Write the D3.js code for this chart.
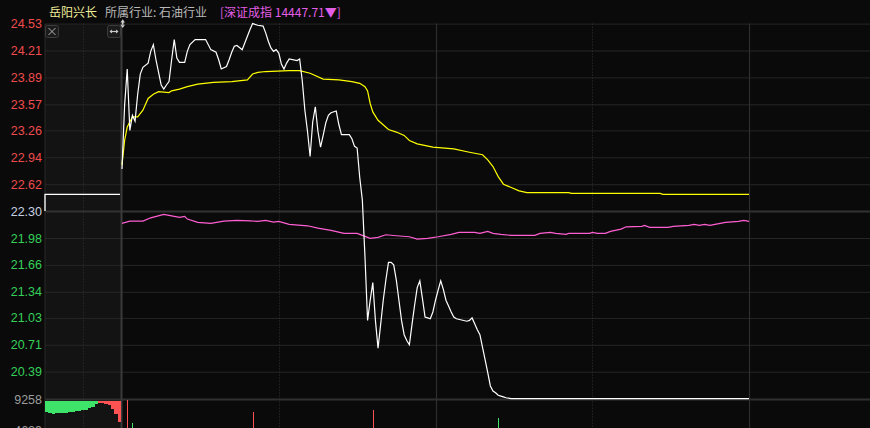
<!DOCTYPE html>
<html><head><meta charset="utf-8">
<script src="https://cdn.jsdelivr.net/npm/d3@7"></script>
<style>html,body{margin:0;padding:0;background:#0a0a0a;overflow:hidden}svg{display:block}</style>
</head><body><svg id="c" width="870" height="428"></svg>
<script>
// ---------- data ----------
const stockName = "岳阳兴长";
const industryText = "所属行业: 石油行业";
const indexText = "[深证成指 14447.71▼]";
const prevClose = 22.30;
const indexPrevClose = 14527.6;

const priceTicks = [24.53, 24.21, 23.89, 23.57, 23.26, 22.94, 22.62, 22.30, 21.98, 21.66, 21.34, 21.03, 20.71, 20.39];
const priceTickLabels = ["24.53","24.21","23.89","23.57","23.26","22.94","22.62","22.30","21.98","21.66","21.34","21.03","20.71","20.39"];
const volTicks = [9258, 4629];
const volTickLabels = ["9258", "4629"];

// call auction (9:15-9:25), minutes from 9:15
const auctionMinute = [0, 0, 10];
const auctionPrice = [22.30, 22.50, 22.50];
const auctionImbalance = [1687,1881,2030,1941,1926,1881,1792,1732,1687,1642,1583,1493,1344,1120,896,597,299,299,448,746,1269,2015,3285];
const auctionSide = ["s","s","s","s","s","s","s","s","s","s","s","s","s","s","s","s","b","b","b","b","b","b","b"];

// minute index from 9:30 (0..240)
const priceMinute = [0,1,2,3,4,5,6,7,8,10,11,12,13,14,15,16,17,18,19,20,21,22,24,25,26,28,32,34,36,37,38,40,41,42,43,44,46,47,48,49,50,52,54,55,56,57,58,59,60,61,62,63,64,67,68,69,70,71,72,73,74,75,76,77,78,79,80,82,83,84,87,88,89,90,91,92,93,94,95,96,97,98,99,100,101,102,103,104,105,106,107,108,109,110,111,112,113,114,115,116,117,118,119,120,121,122,123,124,125,126,127,128,132,133,134,135,136,137,138,139,140,141,142,143,144,145,146,147,149,240];
const priceValue = [22.80,23.56,23.99,23.26,23.44,23.37,23.69,23.93,24.01,24.06,24.20,24.28,24.10,23.95,23.80,23.75,23.80,23.84,24.10,24.34,24.12,24.07,24.07,24.20,24.28,24.34,24.34,24.22,24.19,24.10,23.99,24.02,24.10,24.19,24.26,24.27,24.22,24.30,24.38,24.46,24.53,24.51,24.50,24.42,24.32,24.24,24.20,24.22,24.18,24.05,23.99,24.06,24.11,24.09,24.11,23.85,23.50,23.25,22.95,23.36,23.54,23.25,23.06,23.20,23.35,23.44,23.47,23.49,23.33,23.21,23.21,23.16,23.07,23.05,22.70,22.43,21.76,21.00,21.24,21.45,21.00,20.67,20.95,21.24,21.48,21.69,21.69,21.66,21.48,21.24,21.00,20.83,20.76,20.71,20.95,21.18,21.39,21.47,21.26,21.04,21.03,21.02,21.10,21.24,21.36,21.47,21.37,21.24,21.17,21.10,21.04,21.02,20.99,21.00,21.03,20.96,20.89,20.83,20.68,20.53,20.38,20.22,20.16,20.14,20.11,20.10,20.09,20.08,20.07,20.07];

const avgMinute = [0,1,2,4,6,8,10,12,14,18,19,22,25,29,35,42,48,50,52,55,64,68,72,77,83,88,91,93,94,95,96,98,102,105,108,110,113,119,127,133,138,140,142,144,146,149,152,155,171,172,206,207,240];
const avgValue = [22.85,23.14,23.30,23.42,23.42,23.50,23.64,23.69,23.72,23.71,23.73,23.75,23.78,23.81,23.83,23.84,23.86,23.93,23.95,23.96,23.97,23.97,23.94,23.87,23.86,23.84,23.82,23.78,23.73,23.58,23.48,23.38,23.27,23.24,23.20,23.14,23.10,23.06,23.04,23.00,22.97,22.91,22.83,22.71,22.62,22.58,22.54,22.52,22.52,22.51,22.51,22.50,22.50];

const indexMinute = [0,3,8,11,16,18,22,24,25,29,34,39,44,49,52,55,58,60,64,71,75,80,85,90,93,95,98,101,105,110,113,117,121,126,129,135,137,140,142,145,149,158,160,164,166,170,171,179,180,182,185,187,191,193,199,200,202,209,211,217,219,221,223,225,229,231,236,238,240];
const indexValue = [14432.4,14450.2,14450.2,14475.7,14502.1,14494.3,14478.8,14486.6,14465.7,14440.1,14432.4,14450.2,14455.6,14452.5,14447.9,14455.6,14442.5,14447.9,14424.7,14413.8,14396.0,14378.2,14355.0,14355.0,14331.8,14316.3,14324.1,14344.2,14336.4,14328.7,14310.9,14316.3,14328.7,14347.3,14362.8,14362.8,14355.0,14370.5,14355.0,14347.3,14339.5,14339.5,14355.0,14362.8,14355.0,14347.3,14355.0,14355.0,14362.8,14355.0,14355.0,14370.5,14388.3,14406.1,14409.2,14417.0,14401.5,14401.5,14409.2,14417.0,14424.7,14417.0,14424.7,14417.0,14432.4,14440.1,14447.9,14455.6,14447.71];

const volMinute = [2, 4, 50, 96, 144];
const volValue = [9200, 5820, 7320, 7760, 6570];
const volSide = ["b", "s", "b", "b", "s"];

// ---------- layout ----------
const W = 870, H = 428;
const left = 45, openX = 122, closeX = 749;
const topY = 23.6, priceBottom = 398.6, volTop = 399.5, volBottom = 461.5;

const svg = d3.select("#c");
const x = d3.scaleLinear().domain([0, 240]).range([openX, closeX]);
const xa = d3.scaleLinear().domain([0, 10]).range([left, 120]);
const y = d3.scaleLinear().domain([20.07, 24.53]).range([priceBottom, topY]);
const yv = d3.scaleLinear().domain([0, 9258]).range([volBottom, volTop]);
const ah = d3.scaleLinear().domain([0, 9258]).range([0, volBottom - volTop]);
const xb = d3.scaleBand().domain(d3.range(auctionImbalance.length)).range([left, 121]);

const RED = "#ff5252", GREEN = "#3ee36a";

svg.append("rect").attr("width", W).attr("height", H).attr("fill", "#0a0a0a");
svg.append("rect").attr("x", left).attr("y", topY).attr("width", openX - left).attr("height", H - topY).attr("fill", "#131313");

// horizontal grid
const gridG = svg.append("g").attr("transform", `translate(${left},0)`)
  .call(d3.axisLeft(y).tickValues(priceTicks).tickSize(-(W - left)).tickFormat(""));
gridG.select(".domain").remove();
gridG.selectAll(".tick line").attr("stroke", d => d === prevClose ? "#333" : "#262626")
  .attr("stroke-width", d => d === prevClose ? 2 : 1);
svg.append("line").attr("x1", left).attr("x2", W).attr("y1", volTop).attr("y2", volTop)
  .attr("stroke", "#303030").attr("stroke-width", 2);

// vertical grid
svg.append("line").attr("x1", left).attr("x2", left).attr("y1", topY).attr("y2", H).attr("stroke", "#2a2a2a");
svg.append("line").attr("x1", 83.5).attr("x2", 83.5).attr("y1", topY).attr("y2", H)
  .attr("stroke", "#333").attr("stroke-dasharray", "1,2");
[60, 180].forEach(m => svg.append("line").attr("x1", Math.round(x(m)) + 0.5).attr("x2", Math.round(x(m)) + 0.5).attr("y1", topY).attr("y2", H)
  .attr("stroke", "#333").attr("stroke-dasharray", "1,2"));
[120, 240].forEach(m => svg.append("line").attr("x1", Math.round(x(m)) + 0.5).attr("x2", Math.round(x(m)) + 0.5).attr("y1", topY).attr("y2", H)
  .attr("stroke", "#2e2e2e").attr("stroke-width", 1.2));
svg.append("line").attr("x1", openX - 0.5).attr("x2", openX - 0.5).attr("y1", topY).attr("y2", H).attr("stroke", "#3a3a3a").attr("stroke-width", 2);

// axis labels
const labG = svg.append("g").attr("transform", `translate(42,0)`)
  .call(d3.axisLeft(y).tickValues(priceTicks).tickSize(0).tickPadding(0)
    .tickFormat((d, i) => priceTickLabels[i]));
labG.select(".domain").remove();
labG.selectAll("text").attr("font-family", "'Liberation Sans', Arial, sans-serif").attr("font-size", 12.5)
  .attr("fill", d => d > prevClose ? "#ee4c4c" : (d < prevClose ? "#36cf58" : "#c6d0e0"));
const volG = svg.append("g").attr("transform", `translate(42,0)`)
  .call(d3.axisLeft(yv).tickValues(volTicks).tickSize(0).tickPadding(0)
    .tickFormat((d, i) => volTickLabels[i]));
volG.select(".domain").remove();
volG.selectAll("text").attr("font-family", "'Liberation Sans', Arial, sans-serif").attr("font-size", 12.5).attr("fill", "#9c9c9c");

// auction imbalance bars
svg.append("g").attr("shape-rendering", "crispEdges").selectAll("rect").data(auctionImbalance).join("rect")
  .attr("x", (d, i) => xb(i)).attr("width", xb.bandwidth())
  .attr("y", volTop + 1).attr("height", d => ah(d))
  .attr("fill", (d, i) => auctionSide[i] === "b" ? RED : GREEN);

// volume bars
svg.append("g").attr("shape-rendering", "crispEdges").selectAll("rect").data(volValue).join("rect")
  .attr("x", (d, i) => Math.round(x(volMinute[i]))).attr("width", 1)
  .attr("y", d => yv(d)).attr("height", d => volBottom - yv(d))
  .attr("fill", (d, i) => volSide[i] === "b" ? RED : GREEN);

// lines
const line = (xs) => d3.line().x(d => xs(d[0])).y(d => y(d[1]));
svg.append("path").datum(d3.zip(auctionMinute, auctionPrice)).attr("d", line(xa))
  .attr("fill", "none").attr("stroke", "#fff").attr("stroke-width", 1.3);
svg.append("path").datum(d3.zip(indexMinute, indexValue.map(v => prevClose * v / indexPrevClose))).attr("d", line(x))
  .attr("fill", "none").attr("stroke", "#ff5fd2").attr("stroke-width", 1.2);
svg.append("path").datum(d3.zip(avgMinute, avgValue)).attr("d", line(x))
  .attr("fill", "none").attr("stroke", "#ffff00").attr("stroke-width", 1.2);
svg.append("path").datum(d3.zip(priceMinute, priceValue)).attr("d", line(x))
  .attr("fill", "none").attr("stroke", "#ffffff").attr("stroke-width", 1.2);

// header
const hf = "'Noto Sans CJK SC', 'Noto Sans', sans-serif";
svg.append("text").attr("x", 49).attr("y", 16.5).attr("font-family", hf).attr("font-size", 12).attr("fill", "#f2ee9a").text(stockName);
svg.append("text").attr("x", 105).attr("y", 16.5).attr("font-family", hf).attr("font-size", 12).attr("fill", "#b9b9b9").text(industryText);
svg.append("text").attr("x", 220).attr("y", 16.5).attr("font-family", hf).attr("font-size", 12).attr("fill", "#e35ee6").text(indexText);

// icons
const ic = svg.append("g");
ic.append("rect").attr("x", 45.5).attr("y", 25.5).attr("width", 13).attr("height", 12).attr("rx", 2)
  .attr("fill", "#1b1b1b").attr("stroke", "#3c3c3c");
ic.append("path").attr("d", "M48.5,28 L55.5,35 M55.5,28 L48.5,35").attr("stroke", "#b0b0b0").attr("stroke-width", 1);
ic.append("rect").attr("x", 107.5).attr("y", 25.5).attr("width", 13).attr("height", 12).attr("rx", 2)
  .attr("fill", "#1b1b1b").attr("stroke", "#3c3c3c");
ic.append("path").attr("d", "M110,31.5 L118,31.5").attr("stroke", "#c8c8c8").attr("stroke-width", 1.2);
ic.append("path").attr("d", "M109.5,31.5 L112,29.5 L112,33.5 Z M118.5,31.5 L116,29.5 L116,33.5 Z").attr("fill", "#c8c8c8");
ic.append("path").attr("d", "M122.7,19.3 L125,22.5 L120.4,22.5 Z M122.7,28 L125,24.8 L120.4,24.8 Z M121.9,22 L123.5,22 L123.5,25.3 L121.9,25.3 Z")
  .attr("fill", "#cfcfcf");
</script></body></html>
